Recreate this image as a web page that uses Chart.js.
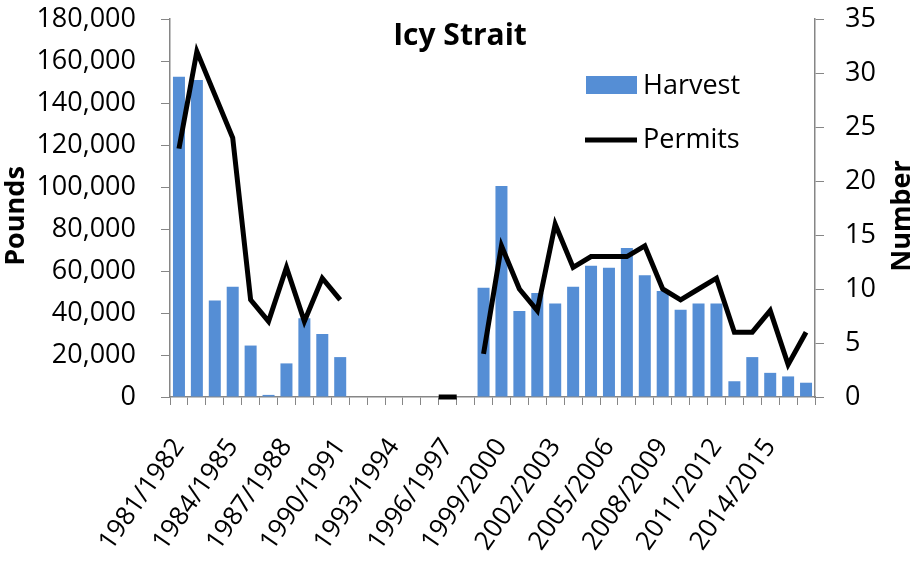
<!DOCTYPE html>
<html>
<head>
<meta charset="utf-8">
<script src="https://cdn.jsdelivr.net/npm/chart.js@4/dist/chart.umd.min.js"></script>
<style>
  html, body { margin: 0; padding: 0; background: #fff; }
  #wrap { width: 923px; height: 563px; position: relative; }
</style>
</head>
<body>
<div id="wrap"><canvas id="icyChart"></canvas></div>
<script>
const seasons = [
  "1981/1982", "1982/1983", "1983/1984", "1984/1985", "1985/1986", "1986/1987",
  "1987/1988", "1988/1989", "1989/1990", "1990/1991", "1991/1992", "1992/1993",
  "1993/1994", "1994/1995", "1995/1996", "1996/1997", "1997/1998", "1998/1999",
  "1999/2000", "2000/2001", "2001/2002", "2002/2003", "2003/2004", "2004/2005",
  "2005/2006", "2006/2007", "2007/2008", "2008/2009", "2009/2010", "2010/2011",
  "2011/2012", "2012/2013", "2013/2014", "2014/2015", "2015/2016", "2016/2017"
];

// pounds
const harvest = [
  152500, 151000, 46000, 52500, 24500, 1000, 16000, 37500, 30000, 19000,
  null, null, null, null, null, null, null,
  52000, 100500, 41000, 49500, 44500, 52500, 62500, 61500, 71000, 58000,
  50500, 41500, 44500, 44500, 7500, 19000, 11500, 9800, 6800
];

// number of permits
const permits = [
  23, 32, 28, 24, 9, 7, 12, 7, 11, 9,
  null, null, null, null, null, 0, null,
  4, 14, 10, 8, 16, 12, 13, 13, 13, 14,
  10, 9, 10, 11, 6, 6, 8, 3, 6
];

const FONT = "'Open Sans', 'Liberation Sans', sans-serif";
const axisGrey = "#868686";

// title, legend and the axis titles sit where Chart.js won't put them, so draw them by hand
const insidePlugin = {
  id: "inside",
  afterDraw(chart) {
    const c = chart.ctx;
    c.save();
    c.fillStyle = "#000";
    c.textBaseline = "middle";
    c.font = "bold 30px " + FONT;
    c.textAlign = "center";
    c.fillText("Icy Strait", 460, 36);

    c.font = "27px " + FONT;
    c.textAlign = "left";
    c.fillStyle = "#558ED5";
    c.fillRect(586, 76, 51, 18);
    c.fillStyle = "#000";
    c.fillText(chart.data.datasets[0].label, 643, 86);

    c.strokeStyle = "#000";
    c.lineWidth = 5;
    c.beginPath();
    c.moveTo(585, 140);
    c.lineTo(637, 140);
    c.stroke();
    c.fillText(chart.data.datasets[1].label, 643, 140);

    c.font = "bold 27px " + FONT;
    c.textAlign = "center";
    c.save();
    c.translate(16, 216);
    c.rotate(-Math.PI / 2);
    c.fillText("Pounds", 0, 0);
    c.restore();
    c.translate(902, 216);
    c.rotate(-Math.PI / 2);
    c.fillText("Number", 0, 0);
    c.restore();
  }
};

const ctx = document.getElementById("icyChart").getContext("2d");
const icyChart = new Chart(ctx, {
  type: "bar",
  data: {
    labels: seasons,
    datasets: [
      {
        label: "Harvest",
        data: harvest,
        backgroundColor: "#558ED5",
        barPercentage: 0.67,
        categoryPercentage: 1,
        yAxisID: "y",
        order: 2,
      },
      {
        type: "line",
        label: "Permits",
        data: permits,
        borderColor: "#000",
        borderWidth: 5,
        tension: 0,
        spanGaps: false,
        clip: false,
        // the lone 1996/1997 value only shows as a short dash
        pointStyle: "line",
        pointRadius: (c) => (c.dataIndex === 15 ? 9 : 0),
        pointBorderWidth: 5,
        pointBorderColor: "#000",
        pointHoverRadius: 0,
        yAxisID: "y1",
        order: 1,
      },
    ],
  },
  options: {
    responsive: true,
    maintainAspectRatio: false,
    animation: false,
    layout: { padding: { top: 19, right: 0, bottom: 0, left: 0 } },
    plugins: {
      legend: { display: false },
      title: { display: false },
      tooltip: { enabled: false },
    },
    scales: {
      x: {
        grid: {
          display: true,
          drawOnChartArea: false,
          drawTicks: true,
          tickLength: 8,
          color: axisGrey,
          offset: true,
        },
        border: { color: axisGrey, width: 1.5 },
        ticks: {
          autoSkip: false,
          maxRotation: 55,
          minRotation: 55,
          color: "#000",
          padding: 28,
          font: { family: FONT, size: 26 },
          callback: (v, i) => (i % 3 === 0 ? seasons[i] : ""),
        },
        afterFit: (s) => { s.height = 166; },
      },
      y: {
        position: "left",
        min: 0,
        max: 180000,
        grid: {
          drawOnChartArea: false,
          drawTicks: true,
          tickLength: 9,
          color: axisGrey,
        },
        border: { color: axisGrey, width: 1.5 },
        ticks: {
          stepSize: 20000,
          color: "#000",
          padding: 25,
          font: { family: FONT, size: 27 },
          callback: (v) => v.toLocaleString("en-US"),
        },
        afterFit: (s) => { s.width = 170; s.paddingTop = 0; s.paddingBottom = 0; },
      },
      y1: {
        position: "right",
        min: 0,
        max: 35,
        grid: {
          drawOnChartArea: false,
          drawTicks: true,
          tickLength: 9,
          color: axisGrey,
        },
        border: { color: axisGrey, width: 1.5 },
        ticks: {
          stepSize: 5,
          color: "#000",
          padding: 21,
          font: { family: FONT, size: 27 },
        },
        afterFit: (s) => { s.width = 108; s.paddingTop = 0; s.paddingBottom = 0; },
      },
    },
  },
  plugins: [insidePlugin],
});
</script>
</body>
</html>
